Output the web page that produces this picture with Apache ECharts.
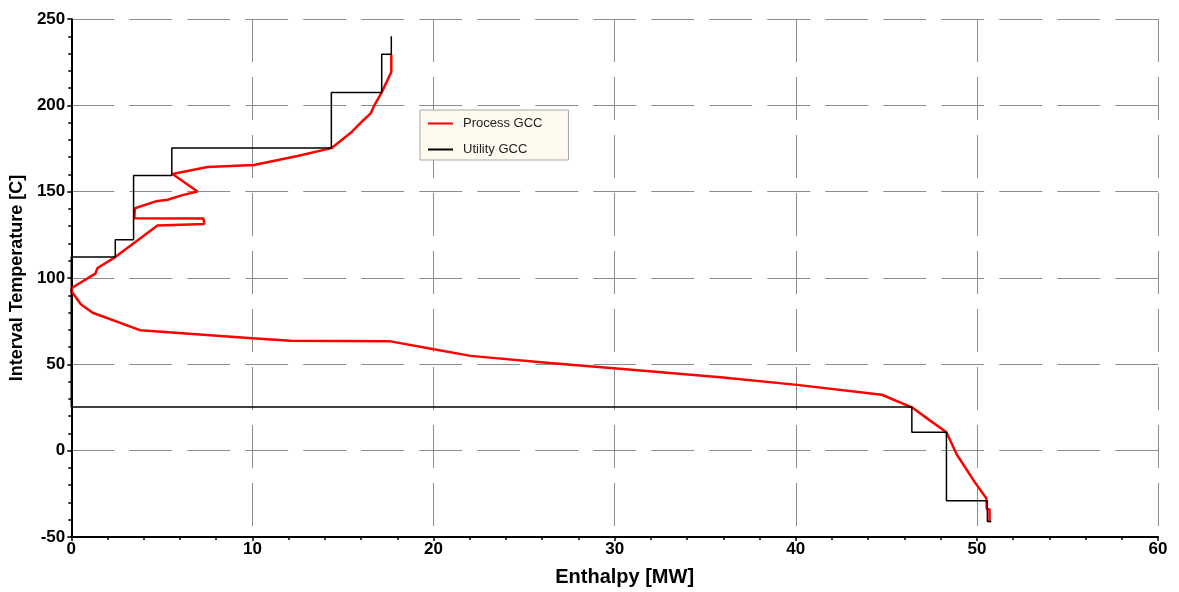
<!DOCTYPE html>
<html>
<head>
<meta charset="utf-8">
<title>GCC</title>
<script src="https://cdn.jsdelivr.net/npm/echarts@6/dist/echarts.min.js"></script>
<style>
  html, body { margin: 0; padding: 0; background: #fff; }
  #chart { width: 1179px; height: 592px; }
</style>
</head>
<body>
<div id="chart"></div>
<script>
// Process GCC: enthalpy [MW] / interval temperature [C]
var processH = [17.67, 17.67, 17.14, 16.71, 16.53, 16.07, 15.43, 14.36, 12.49, 10.09, 7.52, 5.59,
  6.97, 6.14, 5.32, 4.67, 3.51, 3.48, 7.30, 7.34, 4.76, 2.43, 1.45, 1.33, 0.07, 0.0, 0.54, 1.18,
  3.79, 10.0, 12.1, 17.63, 20.02, 22.05, 26.4, 29.95, 35.84, 40.07, 44.75, 46.41, 47.42, 48.32,
  48.89, 49.90, 50.52, 50.55, 50.7, 50.7];
var processT = [229.6, 219.3, 207.5, 199.5, 195.3, 190.8, 184.1, 175.2, 170.7, 165.5, 164.3, 160.2,
  150.1, 148.0, 145.3, 144.4, 140.4, 134.6, 134.4, 131.3, 130.4, 112.1, 105.8, 102.5, 94.5, 92.5, 84.6, 79.9,
  69.8, 65.1, 63.7, 63.3, 58.7, 54.9, 50.8, 47.8, 42.5, 38.1, 32.4, 25.1, 17.4, 10.7,
  -2.2, -18.5, -27.5, -33.9, -33.9, -41.5];

// Utility GCC
var utilityH = [17.67, 17.67, 17.14, 17.14, 14.36, 14.36, 5.55, 5.55, 3.44, 3.44, 2.43, 2.43, 0, 0,
  46.41, 46.41, 48.32, 48.32, 50.58, 50.58, 50.8];
var utilityT = [240, 229.6, 229.6, 207.5, 207.5, 175.3, 175.3, 159.4, 159.4, 122.1, 122.1, 112.1, 112.1, 25.3,
  25.3, 10.7, 10.7, -29, -29, -41, -41];

function zip(xs, ys) {
  return xs.map(function (x, i) { return [x, ys[i]]; });
}

var gridLine = { show: true, lineStyle: { color: '#8c8c8c', width: 1, type: [43, 15] } };
var axisLabelStyle = { color: '#000', fontFamily: 'Liberation Sans, Arial', fontWeight: 'bold', fontSize: 17 };

var chart = echarts.init(document.getElementById('chart'));
chart.setOption({
  animation: false,
  grid: { left: 70, right: 21, top: 19, bottom: 52, containLabel: false },
  legend: {
    orient: 'vertical',
    left: 420,
    top: 110,
    padding: [7, 26, 4, 7],
    itemWidth: 25,
    itemHeight: 14,
    itemGap: 13,
    backgroundColor: '#fffaf0',
    borderColor: '#a8a8a8',
    borderWidth: 1,
    itemStyle: { opacity: 0 },
    textStyle: { color: '#222', fontFamily: 'Liberation Sans, Arial', fontSize: 13, padding: [0, 0, 0, 5] },
    data: ['Process GCC', 'Utility GCC']
  },
  xAxis: {
    type: 'value',
    min: 0,
    max: 60,
    interval: 10,
    name: 'Enthalpy [MW]',
    nameLocation: 'middle',
    nameGap: 30,
    nameTextStyle: { color: '#000', fontFamily: 'Liberation Sans, Arial', fontWeight: 'bold', fontSize: 20, padding: [0, 0, 0, 20] },
    axisLine: { onZero: false, lineStyle: { color: '#000', width: 2 } },
    axisTick: { show: true, inside: false, length: 4, lineStyle: { color: '#000', width: 1.5 } },
    minorTick: { show: true, splitNumber: 5, length: 3, lineStyle: { color: '#000', width: 1.5 } },
    axisLabel: Object.assign({ margin: 4 }, axisLabelStyle),
    splitLine: gridLine
  },
  yAxis: {
    type: 'value',
    min: -50,
    max: 250,
    interval: 50,
    name: 'Interval Temperature [C]',
    nameLocation: 'middle',
    nameGap: 40,
    nameTextStyle: { color: '#000', fontFamily: 'Liberation Sans, Arial', fontWeight: 'bold', fontSize: 18 },
    axisLine: { onZero: false, lineStyle: { color: '#000', width: 2 } },
    axisTick: { show: true, inside: false, length: 4, lineStyle: { color: '#000', width: 1.5 } },
    minorTick: { show: true, splitNumber: 5, length: 3, lineStyle: { color: '#000', width: 1.5 } },
    axisLabel: Object.assign({ margin: 6 }, axisLabelStyle),
    splitLine: gridLine
  },
  series: [
    {
      name: 'Process GCC',
      type: 'line',
      data: zip(processH, processT),
      symbol: 'none',
      lineStyle: { color: '#ff0000', width: 2.5 },
      itemStyle: { color: '#ff0000' },
      z: 2
    },
    {
      name: 'Utility GCC',
      type: 'line',
      data: zip(utilityH, utilityT),
      symbol: 'none',
      lineStyle: { color: '#000', width: 1.5 },
      itemStyle: { color: '#000' },
      z: 3
    }
  ]
});
</script>
</body>
</html>
